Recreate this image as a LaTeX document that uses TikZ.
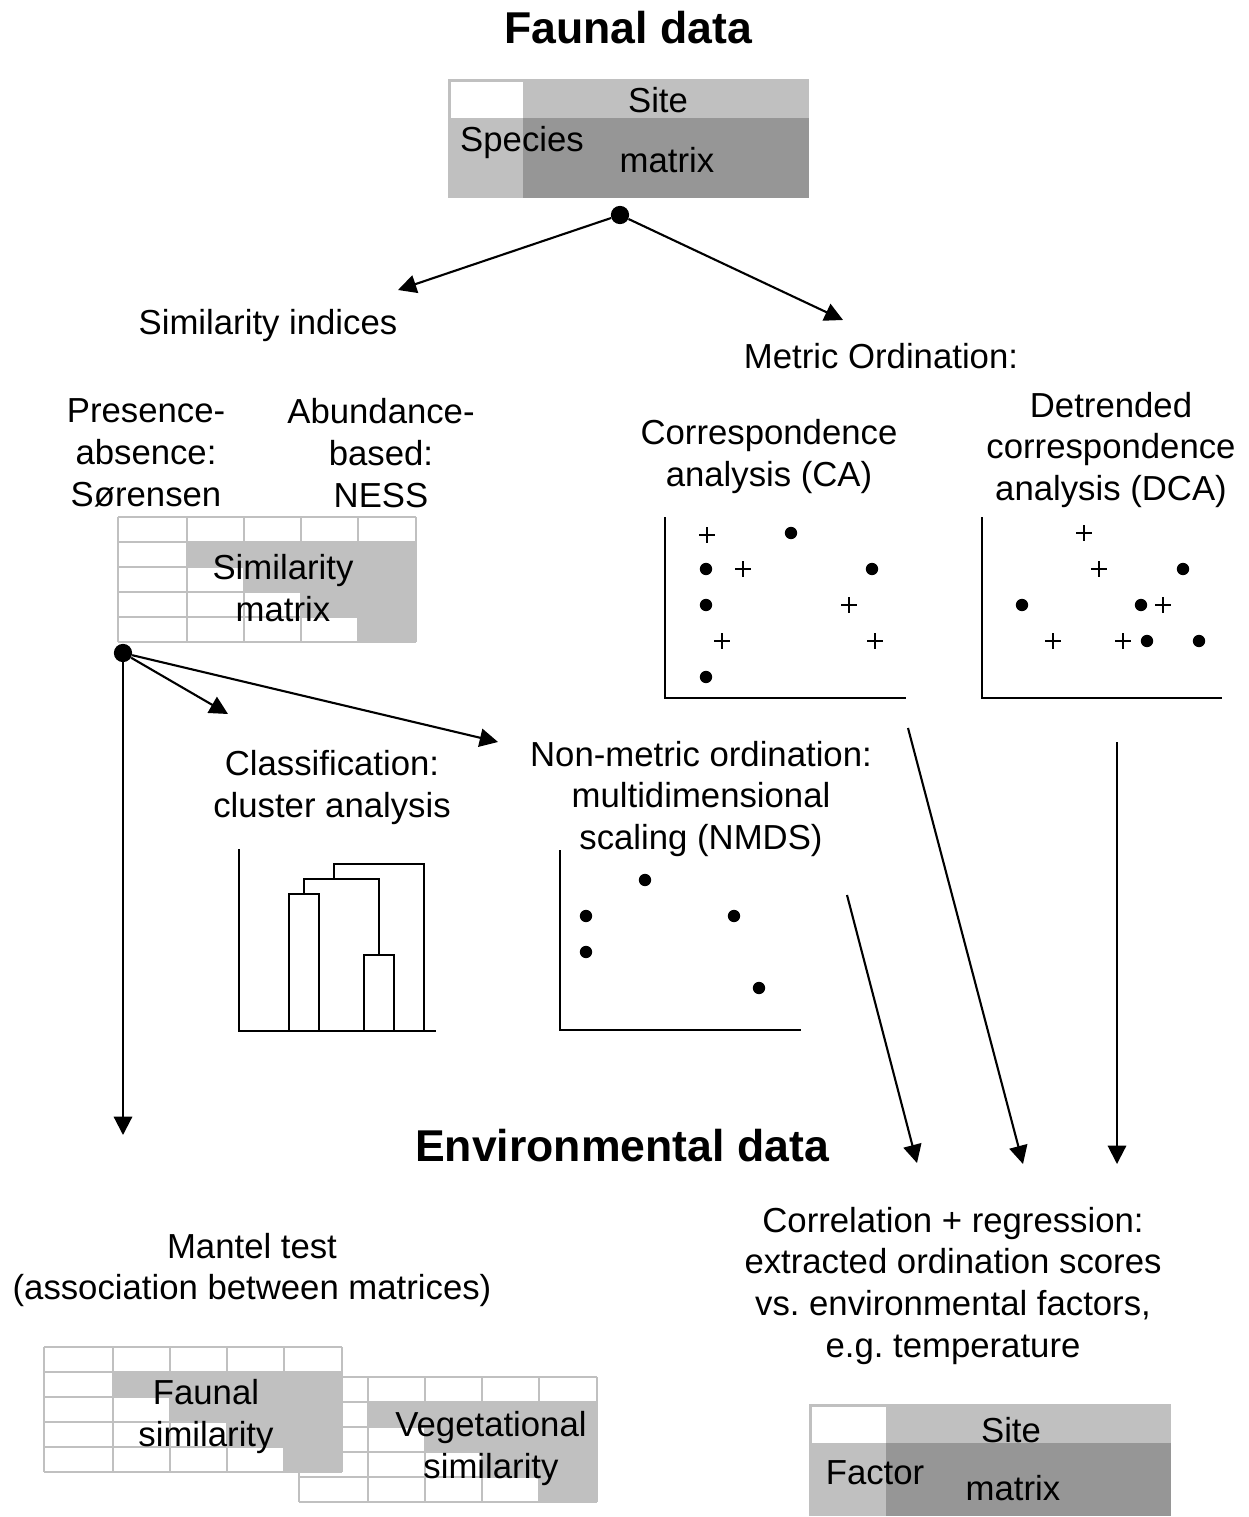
\documentclass[tikz,border=0pt]{standalone}
\usepackage{fontspec}
\setmainfont{Liberation Sans}
\usetikzlibrary{arrows.meta}
\definecolor{lightgrey}{HTML}{C0C0C0}
\definecolor{darkgrey}{HTML}{969696}
\newcommand{\bodyfont}{\fontsize{24.7}{29.8}\selectfont}
\newcommand{\titlefont}{\fontsize{31.7}{38}\selectfont\bfseries}
\frenchspacing

\begin{document}
\begin{tikzpicture}[x=0.025cm, y=-0.025cm,
    label/.style={font=\bodyfont, align=center, inner sep=0pt, yshift=-2.1pt},
    title/.style={font=\titlefont, inner sep=0pt},
    arr/.style={-{Triangle[length=13pt,width=13pt]}, line width=1.5pt},
    split/.style={circle, fill=black, inner sep=0pt, minimum size=13pt},
    axis/.style={line width=1.5pt},
    gridline/.style={lightgrey, line width=1.4pt},
    simtable/.pic={
      \fill[white] (0,0) rectangle (298,125);
      \foreach \cx in {0,69,126,183,240,298} \draw[gridline] (\cx,0) -- (\cx,125);
      \foreach \ry in {0,25,...,125} \draw[gridline] (0,\ry) -- (298,\ry);
      \fill[lightgrey] (69,25) -- (298,25) -- (298,125) -- (240,125) -- (240,100)
        -- (183,100) -- (183,75) -- (126,75) -- (126,50) -- (69,50) -- cycle;
    }]
    \useasboundingbox (0,0) rectangle (1248,1517);

    % Faunal data
    \node[title] (faunal) at (628,28) {Faunal data};

    % species x site matrix
    \fill[lightgrey] (448,79) rectangle (809,198);
    \fill[white] (451,82) rectangle (523,118);
    \fill[darkgrey] (523,118) rectangle (809,198);
    \node[label] (site1) at (658,97) {Site};
    \node[label] (species) at (522,140) {Species};
    \node[label] (matrix1) at (667,157) {matrix};

    % first split
    \node[split] (fork1) at (620,215) {};
    \coordinate (simtip) at (398,290);
    \coordinate (metrictip) at (843,320);
    \draw[arr] (fork1) -- (simtip);
    \draw[arr] (fork1) -- (metrictip);

    % similarity indices
    \node[label] (simidx) at (268,323) {Similarity indices};
    \node[label] (presabs) at (146,450) {Presence-\\absence:\\Sørensen};
    \node[label] (abund) at (381,450) {Abundance-\\based:\\NESS};
    \pic at (118,517) {simtable};
    \node[label] (simmat) at (283,585) {Similarity\\matrix};

    % second split
    \node[split] (fork2) at (123,653) {};
    \coordinate (manteltip) at (123,1135);
    \coordinate (clustertip) at (228,714);
    \coordinate (nmdstip) at (498,742);
    \draw[arr] (fork2) -- (manteltip);
    \draw[arr] (fork2) -- (clustertip);
    \draw[arr] (fork2) -- (nmdstip);

    % cluster analysis
    \node[label] (classif) at (332,785) {Classification:\\cluster analysis};
    \draw[axis] (239,849) |- (436,1031);
    \draw[axis] (289,1031) |- (319,894) -- (319,1031);
    \draw[axis] (364,1031) |- (394,955) -- (394,1031);
    \draw[axis] (304,894) |- (379,879) -- (379,955);
    \draw[axis] (334,879) |- (424,864) -- (424,1031);

    % NMDS
    \node[label] (nmds) at (701,796) {Non-metric ordination:\\multidimensional\\scaling (NMDS)};
    \draw[axis] (560,850) |- (801,1030);
    \foreach \px/\py in {645/880, 586/916, 734/916, 586/952, 759/988}
      \fill (\px,\py) circle (4.4pt);

    % metric ordination
    \node[label] (metric) at (881,353) {Metric Ordination:};

    % CA
    \node[label] (ca) at (769,454) {Correspondence\\analysis (CA)};
    \draw[axis] (665,517) |- (906,698);
    \foreach \px/\py in {791/533, 706/569, 872/569, 706/605, 706/677}
      \fill (\px,\py) circle (4.4pt);
    \foreach \px/\py in {707/535, 743/569, 849/605, 722/641, 875/641}
      \draw[line width=0.9pt] (\px-8,\py) -- (\px+8,\py) (\px,\py-8) -- (\px,\py+8);

    % DCA
    \node[label] (dca) at (1111,447) {Detrended\\correspondence\\analysis (DCA)};
    \draw[axis] (982,517) |- (1222,698);
    \foreach \px/\py in {1183/569, 1022/605, 1141/605, 1147/641, 1199/641}
      \fill (\px,\py) circle (4.4pt);
    \foreach \px/\py in {1084/533, 1099/569, 1163/605, 1053/641, 1123/641}
      \draw[line width=0.9pt] (\px-8,\py) -- (\px+8,\py) (\px,\py-8) -- (\px,\py+8);

    % scores to correlation
    \coordinate (nmdsout) at (847,895);
    \coordinate (nmdsend) at (917,1163);
    \coordinate (caout) at (908,728);
    \coordinate (caend) at (1023,1164);
    \coordinate (dcaout) at (1117,742);
    \coordinate (dcaend) at (1117,1164);
    \draw[arr] (nmdsout) -- (nmdsend);
    \draw[arr] (caout) -- (caend);
    \draw[arr] (dcaout) -- (dcaend);

    % Environmental data
    \node[title] (envir) at (622,1146) {Environmental data};
    \node[label] (corr) at (953,1283) {Correlation + regression:\\extracted ordination scores\\vs. environmental factors,\\e.g. temperature};
    \node[label] (mantel) at (252,1267) {Mantel test\\(association between matrices)};

    % Mantel matrices
    \pic at (299,1377) {simtable};
    \pic at (44,1347) {simtable};
    \node[label] (faunsim) at (206,1414) {Faunal\\similarity};
    \node[label] (vegsim) at (491,1446) {Vegetational\\similarity};

    % factor x site matrix
    \fill[lightgrey] (809,1404) rectangle (1171,1516);
    \fill[white] (812,1407) rectangle (886,1443);
    \fill[darkgrey] (886,1443) rectangle (1171,1516);
    \node[label] (site2) at (1011,1427) {Site};
    \node[label] (factor) at (875,1470) {Factor};
    \node[label] (matrix2) at (1013,1485) {matrix};
\end{tikzpicture}
\end{document}
